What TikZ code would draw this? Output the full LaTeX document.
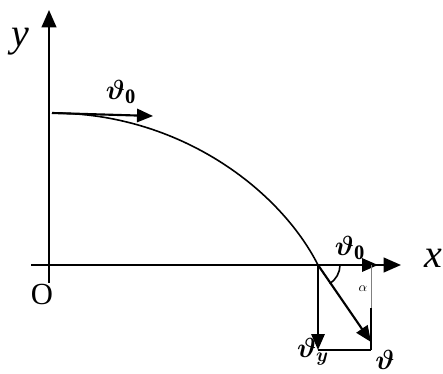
\documentclass[tikz,border=0pt]{standalone}
\usepackage{fontspec}
\usepackage{amsmath}
\setmainfont{Liberation Serif}
\usetikzlibrary{arrows.meta}

\begin{document}
\begin{tikzpicture}[x=0.75pt,y=-0.75pt,
  axis/.style={line width=1.6pt,-{Triangle[length=13pt,width=11pt]}},
  vec/.style={line width=1.6pt,-{Triangle[length=12pt,width=10pt]}},
  lbl/.style={font=\fontsize{22}{24}\selectfont,inner sep=0pt}]
\useasboundingbox (0,0) rectangle (443,374);
% Axes
\coordinate (o) at (49,265);
\coordinate (ybot) at (49,283);
\coordinate (ytop) at (49,10);
\coordinate (xleft) at (31,265);
\coordinate (xtip) at (401,265);
\draw[axis] (ybot) -- (ytop);
\draw[axis] (xleft) -- (xtip);
\node[font=\fontsize{30}{32}\selectfont\itshape,inner sep=0pt] (ylab) at (20,42) {y};
\node[font=\fontsize{30}{32}\selectfont\itshape,inner sep=0pt] (xlab) at (433,258) {x};
\node[font=\fontsize{23}{26}\selectfont,inner sep=0pt] (olab) at (42,294) {O};
% Trajectory and initial velocity
\coordinate (a) at (52,113);
\coordinate (p) at (318,265);
\coordinate (v0tip) at (153,116);
\draw[line width=1.2pt] (a) .. controls (180,113) and (280,190) .. (p);
\draw[vec] (a) -- (v0tip);
\node[lbl] (v0) at (121,92) {$\boldsymbol{\vartheta}_{\mathbf{0}}$};
% Velocity components at the landing point
\coordinate (vx) at (378,265);
\coordinate (q) at (318,350);
\coordinate (r) at (371,350);
\coordinate (s) at (371,265);
\coordinate (m) at (371,308);
\coordinate (vtip) at (371,342);
\draw[vec] (p) -- (vx);
\draw[vec] (p) -- (q);
\draw[line width=1.6pt] (q) -- (r);
\draw[gray,line width=0.5pt] (s) -- (m);
\draw[line width=1.6pt] (m) -- (r);
\draw[vec] (p) -- (vtip);
\draw[line width=1.2pt] ([shift={(22,0)}]p) arc[start angle=0,end angle=58,radius=22];
\node[font=\fontsize{10}{12}\selectfont,inner sep=0pt] (alab) at (363,289) {$\alpha$};
\node[lbl] (vxlab) at (350,248) {$\boldsymbol{\vartheta}_{\mathbf{0}}$};
\node[lbl] (vylab) at (313,352) {$\boldsymbol{\vartheta}_{\boldsymbol{y}}$};
\node[lbl] (vlab) at (385,360) {$\boldsymbol{\vartheta}$};
\end{tikzpicture}
\end{document}
